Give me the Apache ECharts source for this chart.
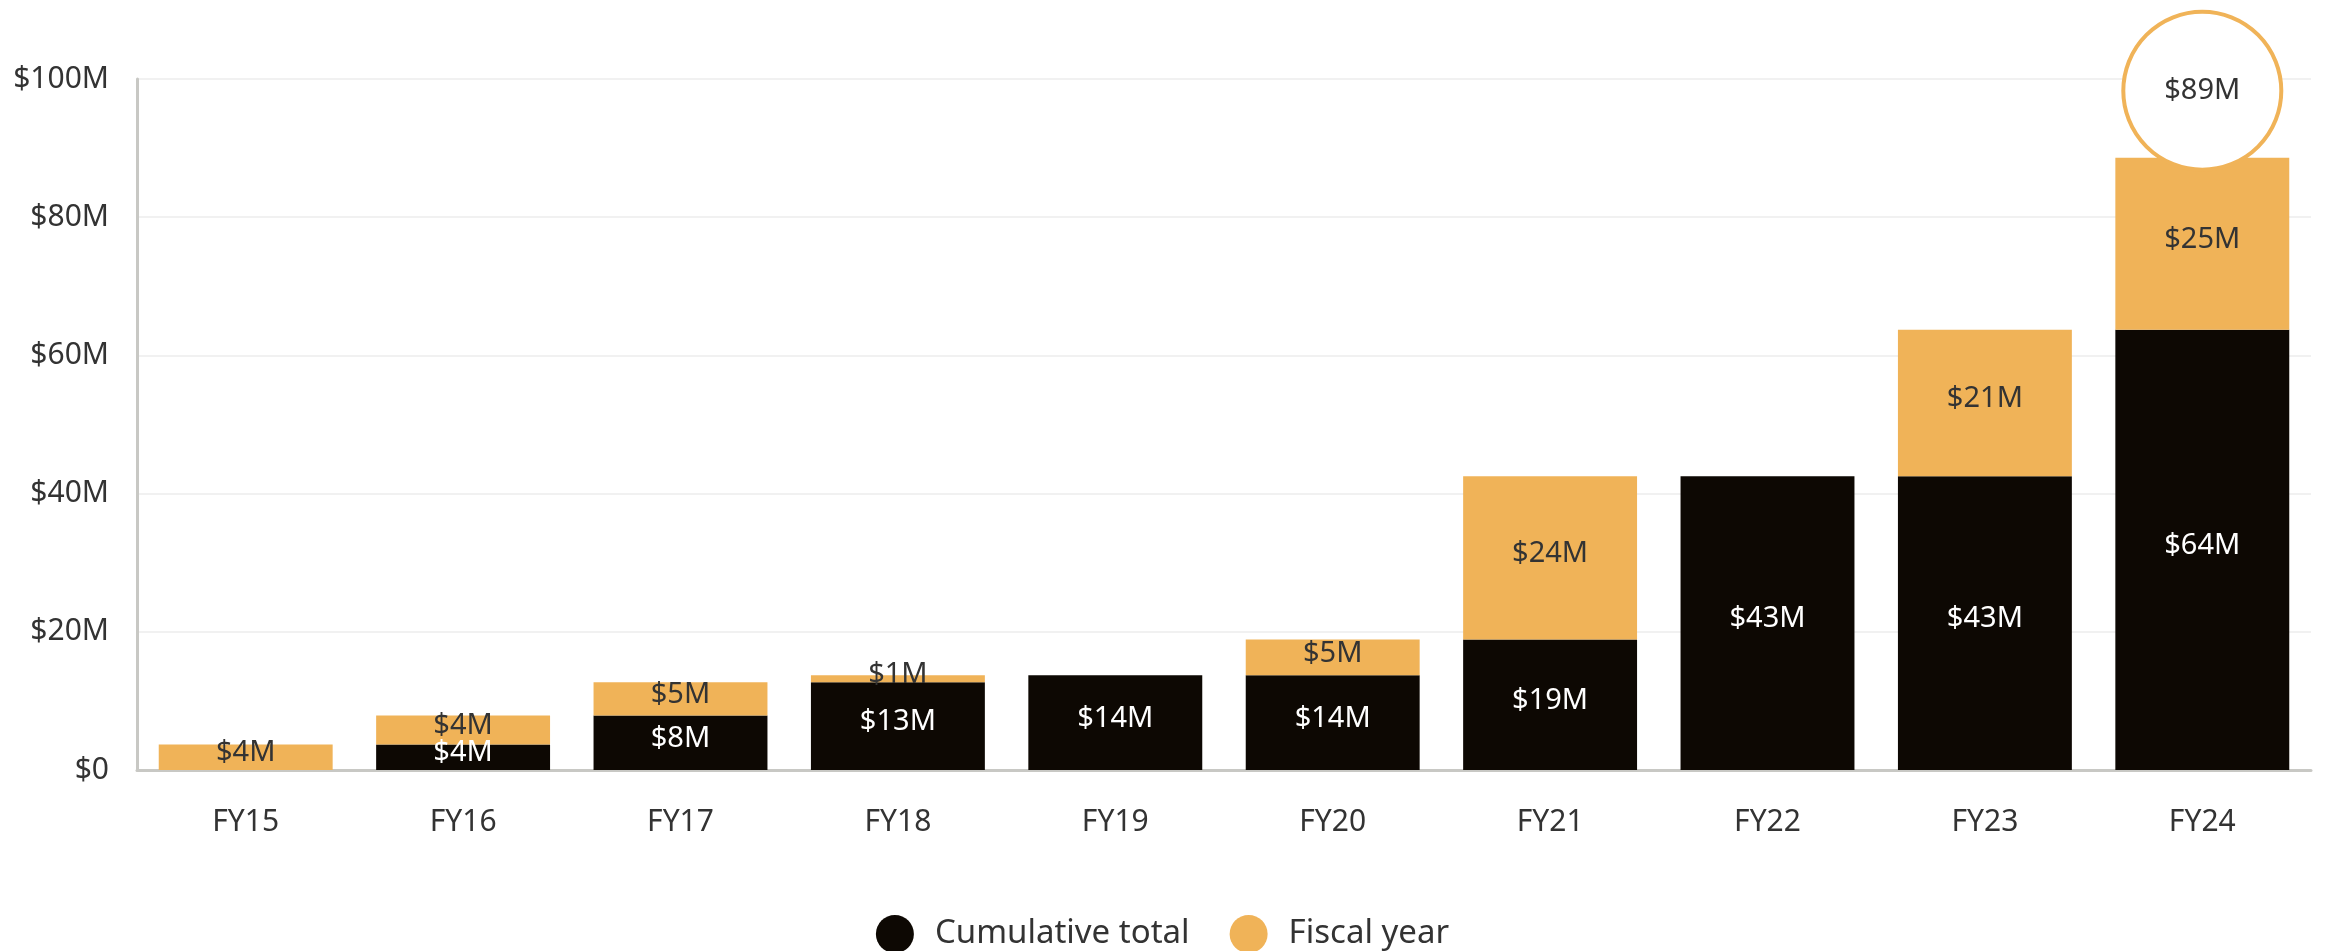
<!DOCTYPE html>
<html>
<head>
<meta charset="utf-8">
<script src="https://cdn.jsdelivr.net/npm/echarts@6/dist/echarts.min.js"></script>
<style>
html,body{margin:0;padding:0;background:#fff;}
#chart{width:2325px;height:951px;}
</style>
</head>
<body>
<div id="chart"></div>
<script>
const categories = ['FY15','FY16','FY17','FY18','FY19','FY20','FY21','FY22','FY23','FY24'];
const cumulativeTotal = [0, 3.7, 7.9, 12.7, 13.7, 13.7, 18.9, 42.5, 42.5, 63.7];
const fiscalYear = [3.7, 4.2, 4.8, 1.0, 0, 5.2, 23.6, 0, 21.2, 24.9];
const highlightIndex = 9;
const yTicks = { min: 0, max: 100, interval: 20 };

const FONT = '"Noto Sans", sans-serif';
const fmt = v => '$' + Math.round(v) + 'M';
const totals = categories.map((c, i) => i === highlightIndex ? cumulativeTotal[i] + fiscalYear[i] : '-');

const chart = echarts.init(document.getElementById('chart'));
chart.setOption({
  animation: false,
  textStyle: { fontFamily: FONT },
  grid: { left: 137, right: 14, top: 79, bottom: 181 },
  legend: {
    bottom: -7, left: 'center',
    icon: 'circle', itemWidth: 38, itemHeight: 38, itemGap: 40,
    textStyle: { fontSize: 33, color: '#333', fontFamily: FONT, padding: [0, 0, 0, 16] },
    data: ['Cumulative total', 'Fiscal year']
  },
  xAxis: {
    type: 'category', data: categories,
    axisLine: { lineStyle: { color: '#c8c8c4', width: 3 } },
    axisTick: { show: false },
    axisLabel: { fontSize: 30, color: '#333', margin: 37, fontFamily: FONT }
  },
  yAxis: {
    type: 'value', min: yTicks.min, max: yTicks.max, interval: yTicks.interval,
    axisLine: { show: true, lineStyle: { color: '#c8c8c4', width: 3 } },
    axisTick: { show: false },
    splitLine: { lineStyle: { color: '#ececec', width: 1.5 } },
    axisLabel: { fontSize: 30, color: '#333', margin: 28, fontFamily: FONT,
      formatter: v => v === 0 ? '$0' : '$' + v + 'M' }
  },
  series: [
    {
      name: 'Cumulative total', type: 'bar', stack: 'a', barCategoryGap: '20%',
      data: cumulativeTotal.map(v => v === 0 ? '-' : v),
      itemStyle: { color: '#0d0803' },
      label: { show: true, position: 'inside', color: '#fff', fontSize: 29, fontFamily: FONT,
        offset: [0, -4], formatter: p => fmt(p.value) }
    },
    {
      name: 'Fiscal year', type: 'bar', stack: 'a',
      data: fiscalYear.map(v => v === 0 ? '-' : v),
      itemStyle: { color: '#f0b358' },
      label: { show: true, position: 'inside', color: '#333', fontSize: 29, fontFamily: FONT,
        offset: [0, -4], formatter: p => fmt(p.value) }
    },
    {
      name: 'Total', type: 'scatter', data: totals, z: 10,
      symbol: 'circle', symbolSize: 158, symbolOffset: [0, -67],
      itemStyle: { color: '#fff', borderColor: '#f0b358', borderWidth: 4, opacity: 1 },
      label: { show: true, position: 'inside', color: '#333', fontSize: 29, fontFamily: FONT,
        formatter: p => fmt(p.value) },
      emphasis: { disabled: true }
    }
  ]
});
</script>
</body>
</html>
